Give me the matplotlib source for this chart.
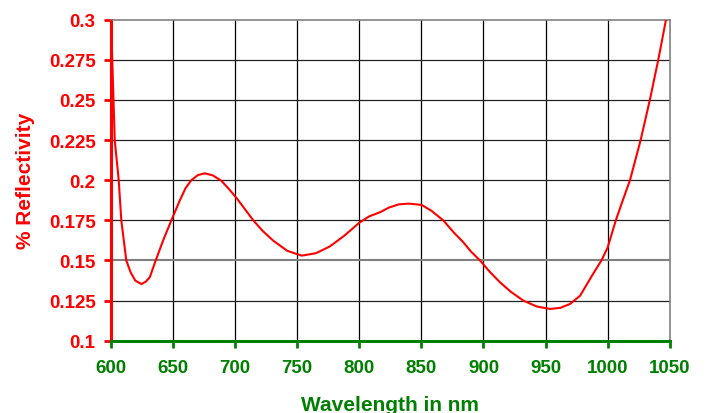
import matplotlib
matplotlib.use('Agg')
import matplotlib.pyplot as plt

plt.rcParams['font.family'] = ['Liberation Sans', 'DejaVu Sans']

# Reflectivity curve
wavelength = [600, 601, 602, 603, 606.2, 608.3, 612.3, 615.8, 619.5, 624.4,
              628, 631.2, 636, 641.9, 648.6, 655.3, 660, 664.7, 670, 675.5,
              682, 688.8, 695, 701.7, 714.6, 722, 730.7, 742, 753.6, 765,
              776.4, 788, 800, 808, 816.6, 824, 832, 840.3, 850.2, 858,
              867.6, 876, 883.8, 890, 897.2, 905, 913.3, 922, 932.1, 943,
              953.6, 962, 969.7, 977.8, 987, 995, 1000, 1006.6, 1012, 1018,
              1026.6, 1034, 1040.8, 1047]
reflectivity = [0.300, 0.275, 0.250, 0.225, 0.200, 0.175, 0.150, 0.1426, 0.1375,
                0.1353, 0.1368, 0.1395, 0.150, 0.1623, 0.175, 0.1872, 0.195,
                0.200, 0.2032, 0.2043, 0.203, 0.1997, 0.1945, 0.1883, 0.175,
                0.1685, 0.1623, 0.156, 0.153, 0.1545, 0.1588, 0.1655, 0.1735,
                0.1775, 0.180, 0.183, 0.185, 0.1854, 0.1846, 0.181, 0.175,
                0.1675, 0.1613, 0.1555, 0.150, 0.143, 0.1364, 0.1305, 0.125,
                0.1213, 0.1198, 0.1205, 0.1229, 0.128, 0.140, 0.150, 0.158,
                0.175, 0.187, 0.200, 0.225, 0.250, 0.275, 0.300]

x_ticks = [600, 650, 700, 750, 800, 850, 900, 950, 1000, 1050]
y_ticks = [0.1, 0.125, 0.15, 0.175, 0.2, 0.225, 0.25, 0.275, 0.3]
y_ticklabels = ['0.1', '0.125', '0.15', '0.175', '0.2', '0.225', '0.25', '0.275', '0.3']

fig = plt.figure(figsize=(7.08, 4.14), dpi=100)
ax = fig.add_axes([0.1568, 0.1746, 0.7891, 0.7754])

# grid
for xv in x_ticks[1:-1]:
    ax.axvline(xv, color='black', linewidth=0.9, zorder=1)
for yv in y_ticks[1:-1]:
    if yv == 0.15:
        ax.axhline(yv, color='#808080', linewidth=1.5, zorder=1)
    else:
        ax.axhline(yv, color='#222222', linewidth=0.9, zorder=1)

ax.plot(wavelength, reflectivity, color='red', linewidth=1.5, zorder=3,
        solid_joinstyle='round', solid_capstyle='round')

ax.set_xlim(600, 1050)
ax.set_ylim(0.1, 0.3)
ax.set_xticks(x_ticks)
ax.set_yticks(y_ticks)
ax.set_yticklabels(y_ticklabels)

ax.spines['left'].set_color('red')
ax.spines['left'].set_linewidth(2.2)
ax.spines['bottom'].set_color('green')
ax.spines['bottom'].set_linewidth(2.2)
ax.spines['top'].set_color('#808080')
ax.spines['top'].set_linewidth(1.2)
ax.spines['right'].set_color('#808080')
ax.spines['right'].set_linewidth(1.2)

ax.tick_params(axis='y', colors='red', direction='out', length=5, width=2,
               labelsize=13.5, pad=6)
ax.tick_params(axis='x', colors='green', direction='out', length=5, width=2,
               labelsize=13.5, pad=8)
for lbl in ax.get_xticklabels() + ax.get_yticklabels():
    lbl.set_fontweight('bold')

ax.set_xlabel('Wavelength in nm', color='green', fontsize=15, fontweight='bold',
              labelpad=14)
ax.set_ylabel('% Reflectivity', color='red', fontsize=15, fontweight='bold',
              labelpad=10)

fig.savefig('out.png', dpi=100, facecolor='white')
